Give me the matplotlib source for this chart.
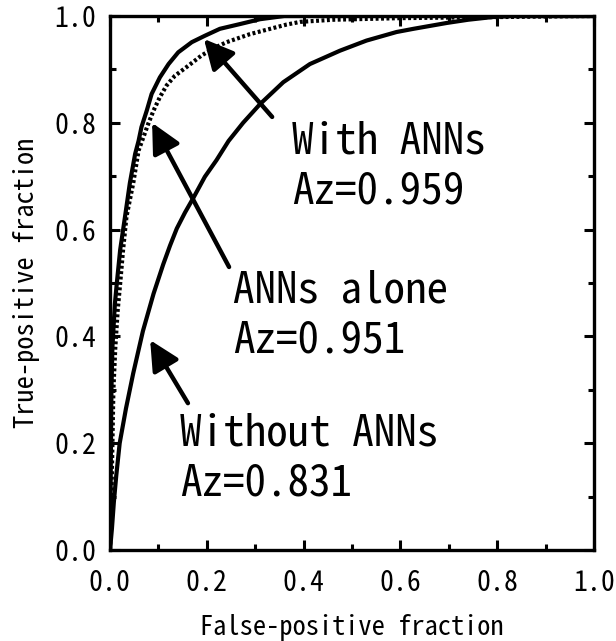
import matplotlib
matplotlib.use("Agg")
import matplotlib.pyplot as plt
from matplotlib.ticker import MultipleLocator

# ---- data ----
with_fpf = [0.0, 0.001, 0.002, 0.003, 0.005, 0.010, 0.014, 0.021, 0.031, 0.041, 0.052,
            0.059, 0.065, 0.076, 0.086, 0.103, 0.121, 0.141, 0.169, 0.196, 0.227,
            0.269, 0.310, 0.360, 0.500, 1.0]
with_tpf = [0.0, 0.10, 0.20, 0.30, 0.38, 0.46, 0.499, 0.562, 0.624, 0.687, 0.742,
            0.766, 0.792, 0.823, 0.854, 0.885, 0.910, 0.932, 0.951, 0.963, 0.976,
            0.985, 0.994, 1.0, 1.0, 1.0]

alone_fpf = [0.0, 0.003, 0.005, 0.007, 0.011, 0.016, 0.021, 0.027, 0.034, 0.048, 0.059,
             0.069, 0.079, 0.090, 0.103, 0.117, 0.134, 0.162, 0.189, 0.215, 0.241,
             0.289, 0.331, 0.365, 0.393, 0.461, 0.600, 0.800, 1.0]
alone_tpf = [0.0, 0.10, 0.20, 0.30, 0.38, 0.45, 0.499, 0.562, 0.624, 0.687, 0.748,
             0.773, 0.798, 0.823, 0.848, 0.870, 0.888, 0.907, 0.926, 0.940, 0.951,
             0.966, 0.976, 0.984, 0.989, 0.993, 0.996, 0.998, 1.0]

without_fpf = [0.0, 0.004, 0.008, 0.013, 0.020, 0.033, 0.048, 0.068, 0.090, 0.110, 0.124,
               0.138, 0.155, 0.172, 0.196, 0.220, 0.245, 0.275, 0.310, 0.358, 0.413,
               0.475, 0.530, 0.592, 0.627, 0.696, 0.740, 0.790, 0.830, 1.0]
without_tpf = [0.0, 0.04, 0.09, 0.14, 0.20, 0.265, 0.331, 0.41, 0.48, 0.535, 0.57,
               0.602, 0.632, 0.659, 0.699, 0.730, 0.766, 0.80, 0.835, 0.876, 0.910,
               0.935, 0.954, 0.970, 0.976, 0.987, 0.993, 0.998, 1.0, 1.0]

labels = ["With ANNs\nAz=0.959", "ANNs alone\nAz=0.951", "Without ANNs\nAz=0.831"]
label_xy = [(0.376, 0.742), (0.254, 0.463), (0.145, 0.196)]
arrow_tail = [(0.335, 0.811), (0.246, 0.530), (0.161, 0.275)]
arrow_tip = [(0.194, 0.957), (0.087, 0.800), (0.083, 0.393)]

ticks = [0.0, 0.2, 0.4, 0.6, 0.8, 1.0]
tick_labels = ["0.0", "0.2", "0.4", "0.6", "0.8", "1.0"]

FAM = ["Noto Sans Mono CJK JP", "DejaVu Sans Mono"]
plt.rcParams["font.family"] = FAM

fig = plt.figure(figsize=(6.16, 6.41), dpi=100)
ax = fig.add_axes([110/616, 1 - 550/641, 484/616, 534/641])

ax.plot(without_fpf, without_tpf, color="black", lw=3.0, solid_joinstyle="round")
ax.plot(alone_fpf, alone_tpf, color="black", lw=3.0, linestyle=(0, (0.7, 0.6)))
ax.plot(with_fpf, with_tpf, color="black", lw=3.0, solid_joinstyle="round")

for (lx, ly), txt in zip(label_xy, labels):
    first, second = txt.split("\n")
    ax.text(lx, ly, first, fontsize=31, ha="left", va="baseline")
    ax.text(lx, ly - 0.094, second, fontsize=31, ha="left", va="baseline")

for tail, tip in zip(arrow_tail, arrow_tip):
    ax.annotate("", xy=tip, xytext=tail,
                arrowprops=dict(arrowstyle="-|>,head_length=0.9,head_width=0.45",
                                mutation_scale=20, lw=3.2, color="black",
                                shrinkA=0, shrinkB=0))

ax.set_xlim(0, 1)
ax.set_ylim(0, 1)
ax.set_xticks(ticks)
ax.set_xticklabels(tick_labels)
ax.set_yticks(ticks)
ax.set_yticklabels(tick_labels)
ax.xaxis.set_minor_locator(MultipleLocator(0.1))
ax.yaxis.set_minor_locator(MultipleLocator(0.1))
ax.tick_params(which="both", direction="in", top=True, right=True, width=2.2)
ax.tick_params(which="major", length=7, labelsize=20)
ax.tick_params(axis="x", which="major", pad=14)
ax.tick_params(axis="y", which="major", pad=10)
ax.tick_params(which="minor", length=4)
for s in ax.spines.values():
    s.set_linewidth(2.4)

ax.set_xlabel("False-positive fraction", fontsize=19, labelpad=12)
ax.set_ylabel("True-positive fraction", fontsize=19, labelpad=10)

fig.savefig("out.png", dpi=100)
